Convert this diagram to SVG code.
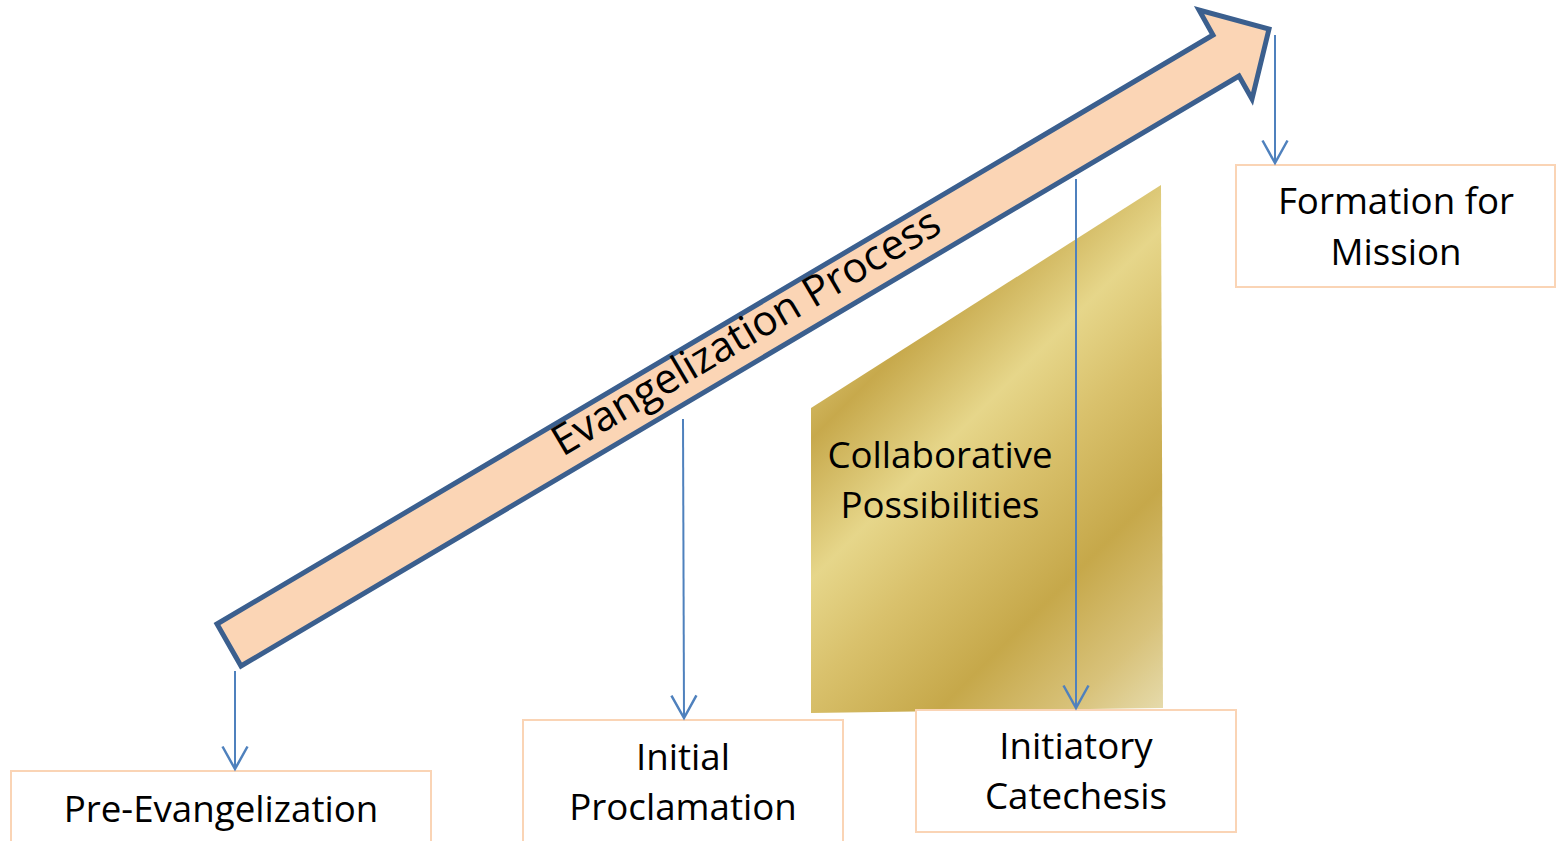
<svg xmlns="http://www.w3.org/2000/svg" width="1556" height="841" viewBox="0 0 1556 841">
  <style>
    .box { fill: #FFFFFF; stroke: #FAD4B5; stroke-width: 2; }
    .lbl { font-family: "Open Sans", "Noto Sans", "Liberation Sans", sans-serif; font-size: 36.7px; fill: #000000; text-anchor: middle; }
    .big { font-family: "Open Sans", "Noto Sans", "Liberation Sans", sans-serif; font-size: 42px; fill: #000000; text-anchor: middle; }
    .conn { stroke: #4F81BD; stroke-width: 2; fill: none; marker-end: url(#vhead); }
  </style>
  <defs>
    <marker id="vhead" markerUnits="userSpaceOnUse" markerWidth="30" markerHeight="30" refX="0" refY="0" orient="auto" overflow="visible" viewBox="-20 -12 22 24">
      <path d="M-18,-10 L0,0 L-18,10" fill="none" stroke="#4F81BD" stroke-width="2"/>
    </marker>
    <linearGradient id="gold" gradientUnits="userSpaceOnUse" x1="600" y1="600" x2="940" y2="940">
      <stop offset="0" stop-color="#D2B862"/>
      <stop offset="0.074" stop-color="#C7A94C"/>
      <stop offset="0.28" stop-color="#E6D68A"/>
      <stop offset="0.44" stop-color="#D9C16C"/>
      <stop offset="0.66" stop-color="#C6A84A"/>
      <stop offset="0.85" stop-color="#D8C27A"/>
      <stop offset="1" stop-color="#E7DDB0"/>
    </linearGradient>
  </defs>
  <rect width="1556" height="841" fill="#FFFFFF"/>

  <g id="collaborative">
    <polygon points="811,408 1161,185 1163,708 811,713" fill="url(#gold)"/>
    <text class="lbl" x="940" y="468">Collaborative</text>
    <text class="lbl" x="940" y="518">Possibilities</text>
  </g>

  <g id="process-arrow">
    <polygon points="217,624 1213,35 1199,10 1269,29 1252,99 1239,76 241,666" fill="#FBD5B5" stroke="#3B5F8E" stroke-width="5" stroke-linejoin="miter"/>
    <text class="big" transform="translate(750,339) rotate(-30.6)" x="0" y="6">Evangelization Process</text>
  </g>

  <g id="pre-evangelization">
    <rect class="box" x="11" y="771" width="420" height="80"/>
    <text class="lbl" x="221" y="822">Pre-Evangelization</text>
  </g>

  <g id="initial-proclamation">
    <rect class="box" x="523" y="720" width="320" height="130"/>
    <text class="lbl" x="683" y="770">Initial</text>
    <text class="lbl" x="683" y="820">Proclamation</text>
  </g>

  <g id="initiatory-catechesis">
    <rect class="box" x="916" y="710" width="320" height="122"/>
    <text class="lbl" x="1076" y="759">Initiatory</text>
    <text class="lbl" x="1076" y="809">Catechesis</text>
  </g>

  <g id="formation-for-mission">
    <rect class="box" x="1236" y="165" width="319" height="122"/>
    <text class="lbl" x="1396" y="214">Formation for</text>
    <text class="lbl" x="1396" y="265">Mission</text>
  </g>

  <g id="connectors">
    <line class="conn" x1="235" y1="671" x2="235" y2="769"/>
    <line class="conn" x1="683" y1="419" x2="684" y2="718"/>
    <line class="conn" x1="1076" y1="179" x2="1076" y2="708"/>
    <line class="conn" x1="1275" y1="35" x2="1275" y2="163"/>
  </g>
</svg>
